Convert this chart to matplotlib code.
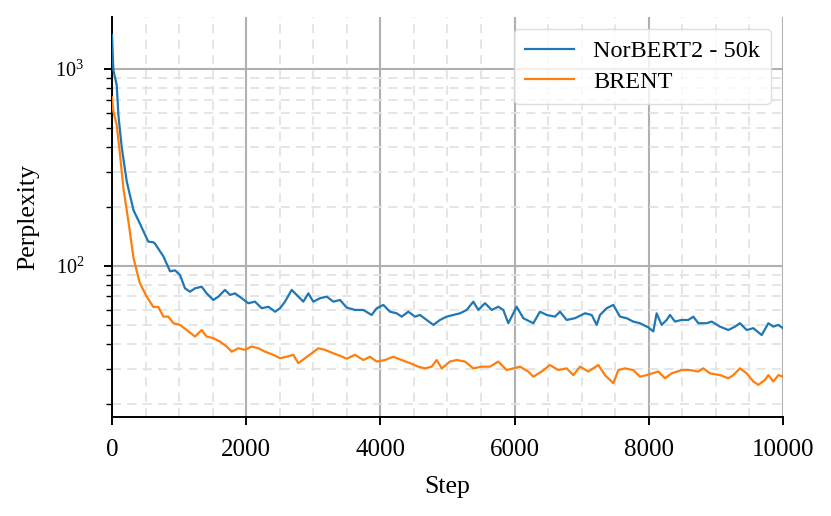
import matplotlib
matplotlib.use("Agg")
import matplotlib.pyplot as plt
from matplotlib.ticker import MultipleLocator, LogLocator, NullFormatter

plt.rcParams['font.family'] = ['Liberation Serif', 'DejaVu Serif']
plt.rcParams['mathtext.fontset'] = 'custom'
plt.rcParams['mathtext.rm'] = 'Liberation Serif'
plt.rcParams['mathtext.it'] = 'Liberation Serif:italic'

steps_norbert = [0, 20, 70, 95, 145, 220, 320, 420, 540, 615, 640, 765, 865, 940,
                 1013, 1088, 1162, 1237, 1336, 1411, 1510, 1585, 1684, 1759, 1833, 1933,
                 2031, 2131, 2231, 2330, 2430, 2504, 2578, 2678, 2777, 2851, 2926, 3000,
                 3100, 3200, 3298, 3398,
                 3497, 3621, 3745, 3870, 3945, 4044, 4143, 4243, 4317, 4416, 4516, 4590,
                 4690, 4789, 4888, 4988, 5087, 5186, 5286, 5385, 5459, 5559, 5659, 5757,
                 5832, 5906,
                 6031, 6130, 6279, 6378, 6478, 6602, 6677, 6776, 6900, 7049, 7149, 7224,
                 7273, 7372, 7471, 7571, 7670, 7769, 7869, 7993,
                 8067, 8117, 8192, 8266, 8316, 8390, 8490, 8589, 8664, 8738, 8863, 8937,
                 9061, 9186, 9285, 9359, 9459, 9558, 9683, 9782, 9856, 9931, 10000]
ppl_norbert = [1490, 990, 830, 585, 400, 268, 192, 163, 133, 132, 130, 112, 94, 95,
               90, 77, 74, 77, 78.5, 72.6, 67.2, 69.9, 75.6, 71.3, 72.6, 68.6,
               64.7, 65.9, 61.0, 62.1, 58.6, 61.0, 65.9, 75.6, 69.9, 65.9, 72.6, 65.9,
               68.6, 69.9, 65.9, 67.2,
               61.5, 59.8, 59.8, 56.4, 61, 63.4, 58.6, 57.5, 55.3, 58.6, 55.3, 56.4,
               53.2, 50.2, 53.2, 55.3, 56.4, 57.5, 59.8, 65.9, 59.8, 64.7, 59.8, 62.1,
               59.8, 51.2,
               62.1, 54.3, 51.2, 58.6, 56.4, 55.3, 58.6, 53.2, 54.3, 57.5, 56.4, 50.2,
               56.4, 61, 63.4, 55.3, 54.3, 52.2, 51.2, 48.8,
               46.5, 57.5, 50.2, 53.2, 56.4, 52.2, 53.2, 53.2, 55.3, 51.2, 51.2, 52.2,
               49.2, 47.3, 49.2, 51.2, 47.3, 48.3, 44.6, 51.2, 49.2, 50.2, 48.3]

steps_brent = [0, 20, 70, 120, 170, 245, 320, 390, 415, 515, 615, 690, 765, 840, 915,
               1013, 1113, 1237, 1336, 1411, 1510, 1609, 1709, 1784, 1883, 1982, 2082,
               2181, 2280, 2404, 2504, 2603, 2702, 2777, 2876, 2976, 3075, 3174, 3298,
               3398,
               3497, 3621, 3745, 3845, 3945, 4069, 4192, 4317, 4441, 4565, 4665, 4764,
               4839, 4914, 5037, 5137, 5261, 5385, 5509, 5633, 5757, 5882,
               6080, 6204, 6279, 6404, 6527, 6651, 6776, 6875, 6975, 7099, 7248, 7347,
               7471, 7546, 7645, 7769, 7869, 7968,
               8142, 8241, 8341, 8490, 8614, 8738, 8813, 8912, 9061, 9186, 9260, 9359,
               9459, 9558, 9633, 9732, 9782, 9856, 9931, 10000]
ppl_brent = [720, 610, 520, 366, 248, 168, 110, 88, 82, 70, 62, 62, 55.3, 55.3, 51.2,
             50.2, 47.3, 43.8, 47.3, 43.8, 43.0, 41.3, 39.0, 36.7, 38.2, 37.5, 39.0,
             38.2, 36.7, 35.4, 34.0, 34.6, 35.4, 32.1, 34.0, 36.0, 38.2, 37.5, 36.0,
             35.0,
             33.8, 35.4, 33.3, 34.6, 32.7, 33.3, 34.6, 33.3, 32.1, 30.8, 30.2, 30.8,
             33.3, 30.2, 32.7, 33.3, 32.7, 30.2, 30.8, 30.8, 32.7, 29.6,
             30.8, 29.1, 27.4, 29.1, 31.4, 29.6, 30.2, 27.9, 30.8, 29.1, 31.4, 27.9,
             25.4, 29.6, 30.2, 29.6, 27.4, 27.9,
             29.1, 26.9, 28.5, 29.6, 29.6, 29.1, 30.2, 28.5, 27.9, 26.9, 27.9, 30.2,
             28.5, 25.9, 24.9, 26.4, 27.9, 25.9, 27.9, 27.4]

labels = ["NorBERT2 - 50k", "BRENT"]
colors = ["#1f77b4", "#ff7f0e"]

fig = plt.figure(figsize=(8.31, 5.16), dpi=100)
ax = fig.add_axes([0.1348, 0.1919, 0.8074, 0.7751])

ax.plot(steps_norbert, ppl_norbert, color=colors[0], lw=1.6, label=labels[0], zorder=3)
ax.plot(steps_brent, ppl_brent, color=colors[1], lw=1.6, label=labels[1], zorder=3)

ax.set_yscale('log')
ax.set_xlim(0, 10000)
ax.set_ylim(17.1, 1840)
ax.xaxis.set_major_locator(MultipleLocator(2000))
ax.xaxis.set_minor_locator(MultipleLocator(500))
ax.yaxis.set_minor_locator(LogLocator(base=10, subs=range(2, 10)))
ax.yaxis.set_minor_formatter(NullFormatter())

ax.grid(which='major', color='#b0b0b0', lw=1.5, ls='-', zorder=1)
ax.grid(which='minor', color='#e3e3e3', lw=1.3, ls=(0, (5, 3.5)), zorder=0)
ax.set_axisbelow(True)

for s in ['top', 'right']:
    ax.spines[s].set_visible(False)
for s in ['left', 'bottom']:
    ax.spines[s].set_linewidth(1.4)
    ax.spines[s].set_color('black')

ax.tick_params(axis='x', which='major', labelsize=18, length=6, width=1.4, pad=10)
ax.tick_params(axis='y', which='major', labelsize=14.5, length=6, width=1.4, pad=14)
ax.tick_params(axis='y', which='minor', length=4, width=1.0)
ax.tick_params(axis='x', which='minor', length=0)

ax.set_xlabel("Step", fontsize=18.5, labelpad=11)
ax.set_ylabel("Perplexity", fontsize=18.5)
ax.yaxis.set_label_coords(-0.108, 0.5)

leg = ax.legend(loc='upper right', fontsize=17.5, frameon=True, handlelength=2.0,
                borderpad=0.45, labelspacing=0.35)
leg.get_frame().set_edgecolor('#d8d8d8')

fig.savefig("out.png", dpi=100)
